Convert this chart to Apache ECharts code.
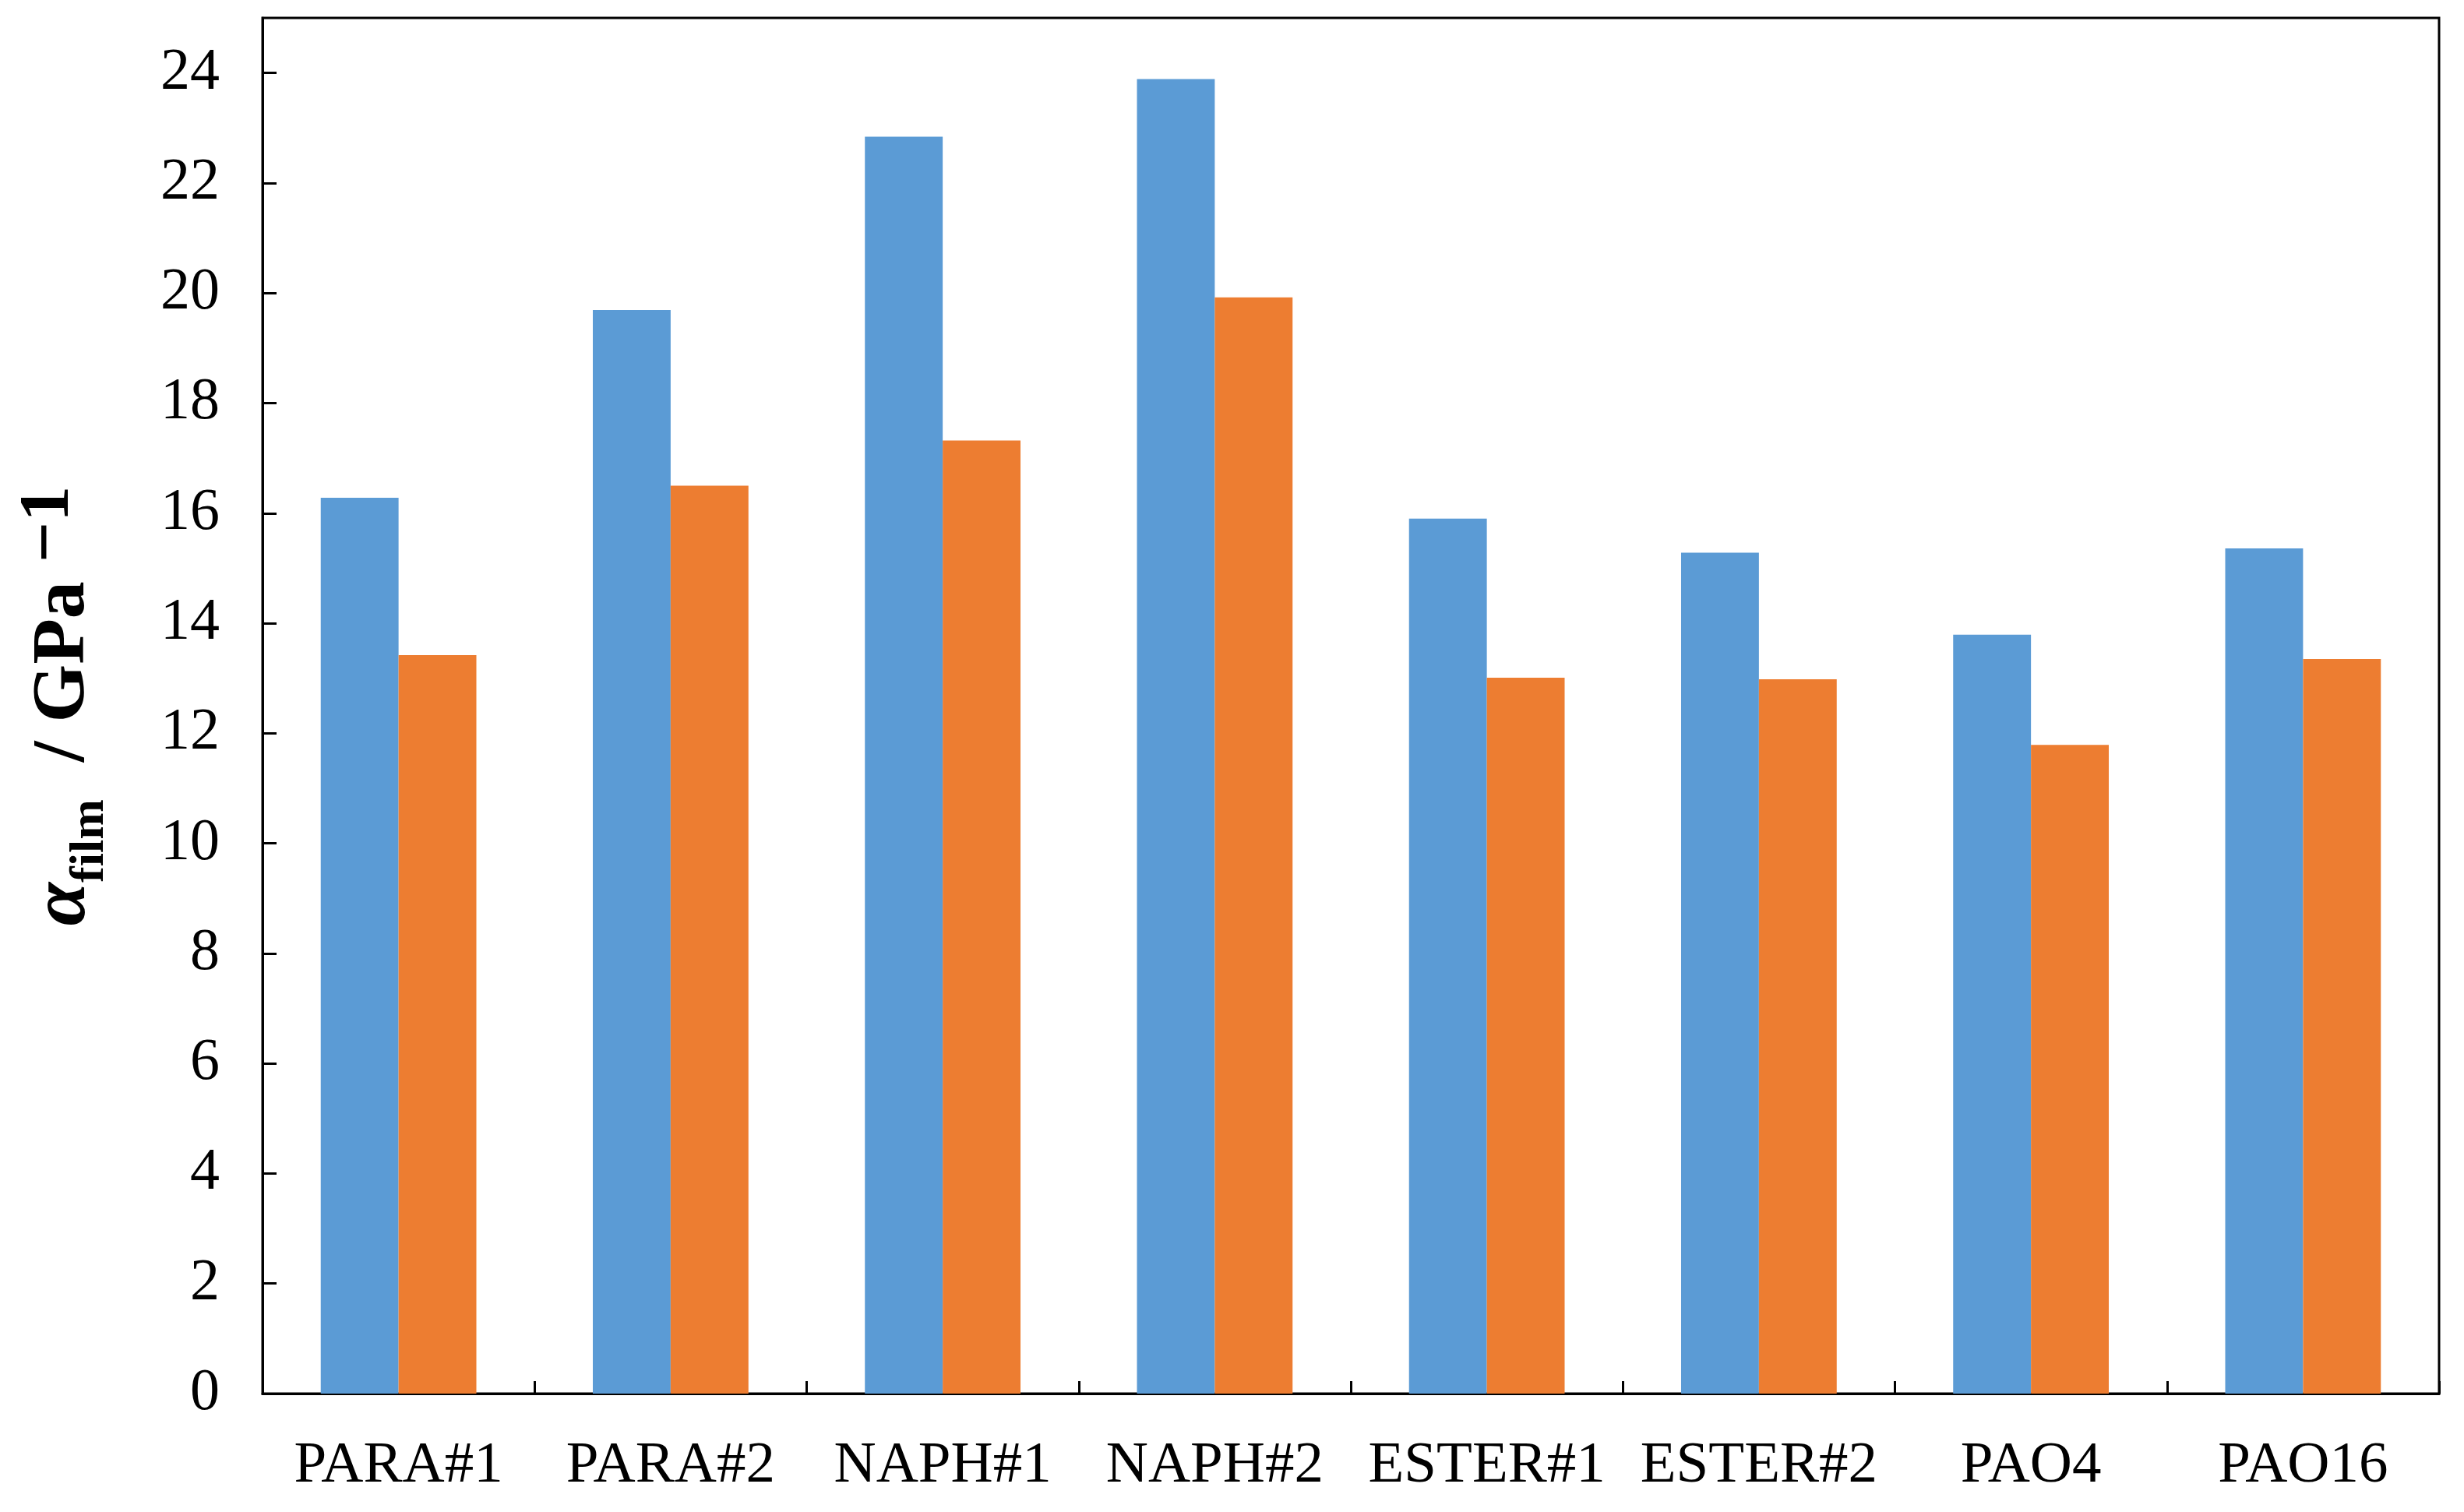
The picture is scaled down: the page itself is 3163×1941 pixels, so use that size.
<!DOCTYPE html>
<html>
<head>
<meta charset="utf-8">
<script src="https://cdn.jsdelivr.net/npm/echarts@6/dist/echarts.min.js"></script>
<style>html,body{margin:0;padding:0;background:#fff;}#c{width:3163px;height:1941px;}</style>
</head>
<body>
<div id="c"></div>
<script>
var categories = ['PARA#1', 'PARA#2', 'NAPH#1', 'NAPH#2', 'ESTER#1', 'ESTER#2', 'PAO4', 'PAO16'];
var seriesA = [16.28, 19.69, 22.84, 23.89, 15.90, 15.28, 13.79, 15.36];
var seriesB = [13.42, 16.50, 17.32, 19.92, 13.01, 12.98, 11.79, 13.35];
var yTicks = [0, 2, 4, 6, 8, 10, 12, 14, 16, 18, 20, 22, 24];

var chart = echarts.init(document.getElementById('c'), null, {renderer: 'canvas'});
var font = '"Liberation Serif", "Times New Roman", serif';
chart.setOption({
  backgroundColor: '#fff',
  animation: false,
  grid: {left: 337, right: 32, top: 23, bottom: 152, show: true, borderColor: '#000', borderWidth: 3, backgroundColor: '#fff', containLabel: false, outerBoundsMode: 'none'},
  xAxis: {
    type: 'category',
    data: categories,
    axisLine: {lineStyle: {color: '#000', width: 3}},
    axisTick: {show: true, inside: true, interval: 0, length: 16, alignWithLabel: false, lineStyle: {color: '#000', width: 3}},
    axisLabel: {color: '#000', fontFamily: font, fontSize: 75, margin: 56, interval: 0},
    splitLine: {show: false}
  },
  yAxis: {
    type: 'value',
    min: 0, max: 25, interval: 2,
    axisLine: {show: true, lineStyle: {color: '#000', width: 3}},
    axisTick: {show: true, inside: true, length: 18, customValues: yTicks, lineStyle: {color: '#000', width: 3}},
    axisLabel: {color: '#000', fontFamily: font, fontSize: 76, margin: 55, customValues: yTicks},
    splitLine: {show: false},
    name: '{a|α}{s|film}{t|  / GPa }{e|−1}',
    nameLocation: 'middle',
    nameRotate: 90,
    nameGap: 190,
    nameTextStyle: {
      color: '#000', fontFamily: font, fontWeight: 'bold',
      rich: {
        a: {fontSize: 100, fontStyle: 'italic', fontWeight: 'bold', fontFamily: font, color: '#000', verticalAlign: 'middle', lineHeight: 130},
        s: {fontSize: 62, fontWeight: 'bold', fontFamily: font, color: '#000', verticalAlign: 'bottom', lineHeight: 130, padding: [34, 0, 0, 0]},
        t: {fontSize: 96, fontWeight: 'bold', fontFamily: font, color: '#000', verticalAlign: 'middle', lineHeight: 130},
        e: {fontSize: 92, fontWeight: 'bold', fontFamily: font, color: '#000', verticalAlign: 'top', lineHeight: 130, padding: [0, 0, 20, 0]}
      }
    }
  },
  series: [
    {type: 'bar', data: seriesA, barWidth: '28.6%', barGap: '0%', itemStyle: {color: '#5B9BD5'}},
    {type: 'bar', data: seriesB, barWidth: '28.6%', barGap: '0%', itemStyle: {color: '#ED7D31'}}
  ]
});
</script>
</body>
</html>
